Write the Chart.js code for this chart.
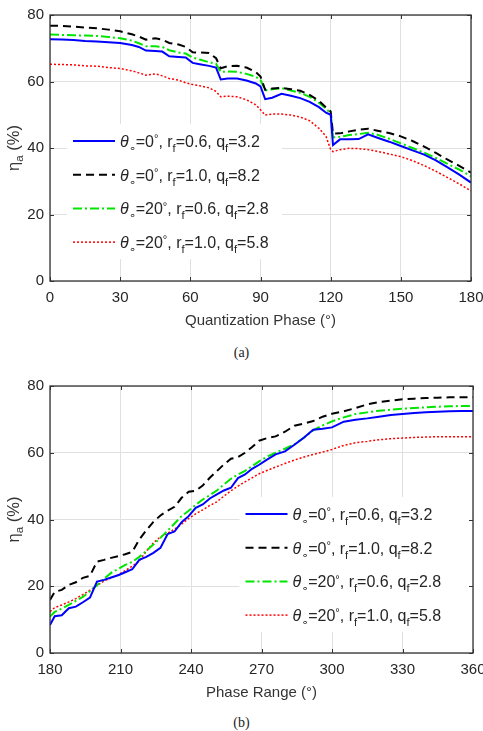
<!DOCTYPE html>
<html>
<head>
<meta charset="utf-8">
<script src="https://cdn.jsdelivr.net/npm/chart.js@4.4.0/dist/chart.umd.min.js"></script>
<style>
  body { margin: 0; background: #fff; width: 483px; height: 731px; position: relative; overflow: hidden; }
  canvas { position: absolute; left: 0; }
  #chartA { top: 0; }
  #chartB { top: 360px; }
  .cap { position: absolute; left: 0; width: 483px; text-align: center; font: 14px "Liberation Serif", serif; color: #222; line-height: 16px; }
</style>
</head>
<body>
<canvas id="chartA" width="483" height="340"></canvas>
<div class="cap" style="top:345px">(a)</div>
<canvas id="chartB" width="483" height="352"></canvas>
<div class="cap" style="top:715px">(b)</div>
<script>
'use strict';

// (a) aperture efficiency vs quantization phase
const quantPhase = [0, 5, 10, 15, 20, 25, 30, 35, 38, 41, 45, 48, 51, 55, 58, 61, 64, 68, 71, 73, 76, 80, 84,
    88, 90, 92, 95, 99, 103, 107, 111, 115, 118, 120, 121, 124, 128, 132, 136, 140, 145, 150, 155, 160, 165, 170, 175, 180];
const quantT0R06 = [72.7, 72.6, 72.5, 72.2, 72.0, 71.8, 71.6, 71.0, 70.4, 69.3, 69.2, 69.0, 67.6, 67.4, 67.2,
    65.6, 65.2, 64.7, 64.2, 60.6, 60.9, 60.9, 60.3, 59.4, 58.5, 54.7, 55.1, 56.3, 55.7, 55.0, 53.9,
    52.3, 50.6, 50.0, 40.9, 42.6, 42.6, 42.7, 44.1, 43.1, 41.9, 40.6, 39.3, 38.0, 36.3, 34.2, 32.0, 29.6];
const quantT0R10 = [76.8, 76.7, 76.5, 76.2, 76.0, 75.6, 75.1, 74.2, 73.5, 72.6, 73.0, 72.6, 71.6, 71.1, 70.4,
    68.8, 68.7, 68.6, 67.0, 64.0, 64.6, 64.7, 64.2, 62.8, 61.5, 57.5, 57.9, 58.1, 57.7, 57.2, 56.0,
    54.2, 52.2, 51.0, 44.3, 44.4, 45.0, 45.5, 45.8, 45.2, 44.5, 43.5, 42.1, 40.4, 38.5, 36.5, 34.6, 32.6];
const quantT20R06 = [74.1, 74.0, 73.9, 73.8, 73.7, 73.4, 73.0, 72.3, 71.5, 70.6, 70.6, 70.4, 69.4, 68.7, 68.4,
    67.2, 66.6, 65.8, 65.3, 62.9, 63.0, 62.9, 62.3, 61.4, 60.5, 57.3, 57.7, 58.0, 57.3, 56.6, 55.4,
    53.6, 51.8, 50.5, 43.2, 43.4, 43.9, 44.2, 44.6, 44.0, 42.8, 41.4, 40.0, 38.6, 37.0, 35.2, 33.5, 31.5];
const quantT20R10 = [65.2, 65.1, 65.0, 64.7, 64.6, 64.2, 63.9, 63.2, 62.6, 61.9, 62.3, 61.7, 60.9, 60.4, 59.6,
    59.1, 58.7, 58.1, 57.0, 55.4, 55.6, 55.4, 54.5, 53.0, 51.5, 49.9, 50.2, 50.2, 49.9, 49.3, 48.2,
    45.9, 43.5, 39.5, 38.9, 39.5, 39.9, 39.8, 39.5, 39.0, 38.2, 37.4, 36.2, 34.7, 33.0, 31.1, 29.2, 27.1];

// (b) aperture efficiency vs phase range
const phaseRange = [180, 182, 185, 188, 191, 194, 197, 200, 203, 206, 209, 212, 215, 218, 221, 224, 227, 230,
    233, 236, 239, 242, 245, 248, 251, 254, 257, 260, 263, 266, 269, 272, 276, 280, 284, 288, 292, 296, 300,
    305, 310, 315, 320, 325, 330, 335, 340, 345, 350, 355, 360];
const rangeT0R06 = [8.4, 11.0, 11.3, 13.4, 13.9, 15.2, 16.6, 21.4, 21.9, 22.6, 23.3, 24.2, 25.1, 27.9, 28.8,
    30.0, 31.5, 35.6, 36.4, 39.2, 41.0, 43.5, 44.5, 46.3, 47.5, 48.7, 49.5, 52.4, 53.5, 55.2, 56.4,
    57.8, 59.5, 60.4, 62.4, 64.5, 66.9, 67.2, 67.6, 69.3, 69.9, 70.3, 70.8, 71.3, 71.6, 71.9, 72.1, 72.3, 72.4, 72.5, 72.5];
const rangeT0R10 = [15.9, 18.3, 18.9, 20.4, 21.2, 22.5, 23.1, 27.4, 27.9, 28.5, 29.0, 29.6, 30.3, 34.0, 36.8,
    39.3, 41.2, 42.6, 43.8, 46.5, 48.3, 48.6, 50.2, 52.5, 54.5, 56.5, 58.2, 58.7, 60.0, 61.7, 63.6,
    64.3, 64.9, 66.3, 68.1, 68.7, 69.5, 70.8, 71.7, 72.4, 73.4, 74.5, 75.2, 75.6, 76.0, 76.2, 76.4, 76.5, 76.6, 76.6, 76.6];
const rangeT20R06 = [10.9, 12.3, 13.3, 14.4, 15.6, 16.8, 18.5, 20.3, 22.2, 24.0, 25.2, 26.4, 27.3, 28.8, 30.6,
    32.5, 34.5, 36.6, 38.8, 41.0, 42.6, 44.4, 46.0, 47.3, 48.7, 50.5, 52.2, 53.5, 54.6, 56.0, 57.4,
    58.7, 60.0, 61.2, 62.5, 64.5, 66.7, 68.2, 69.4, 70.6, 71.6, 72.1, 72.6, 72.9, 73.2, 73.4, 73.6, 73.8, 73.9, 74.0, 74.0];
const rangeT20R10 = [12.4, 13.6, 14.4, 15.3, 16.3, 17.5, 18.8, 20.2, 21.6, 22.5, 23.4, 24.7, 26.0, 27.6, 30.5,
    33.0, 34.8, 35.9, 37.1, 38.6, 40.3, 41.7, 42.9, 44.2, 45.3, 47.0, 48.6, 50.0, 51.3, 52.5, 53.7,
    54.6, 55.7, 56.8, 57.8, 58.7, 59.5, 60.2, 61.0, 62.2, 63.0, 63.4, 63.9, 64.2, 64.4, 64.6, 64.7, 64.8, 64.8, 64.8, 64.8];

// legend parameters
const thetaDeg = ['0', '0', '20', '20'];
const rfVals = ['0.6', '1.0', '0.6', '1.0'];
const qfVals = ['3.2', '8.2', '2.8', '5.8'];

const lineStyles = [
    {borderColor: '#0000ff', borderWidth: 2, borderDash: []},
    {borderColor: '#000000', borderWidth: 2, borderDash: [8, 5]},
    {borderColor: '#00e600', borderWidth: 2, borderDash: [9, 3, 2, 3]},
    {borderColor: '#ff0000', borderWidth: 1.5, borderDash: [2, 2]},
];

const FONT = '"Liberation Sans", "DejaVu Sans", sans-serif';

function legendParts(i) {
    return [
        {t: 'θ', it: true}, {t: '∘', sub: true}, {t: '=' + thetaDeg[i]}, {t: '°', sup: true},
        {t: ', r'}, {t: 'f', sub: true}, {t: '=' + rfVals[i] + ', q'}, {t: 'f', sub: true}, {t: '=' + qfVals[i]},
    ];
}

function partFont(p, size) {
    let fs = (p.sub || p.sup) ? size * 0.7 : size;
    return (p.it ? 'italic ' : '') + fs + 'px ' + FONT;
}

function measureRich(ctx, parts, size) {
    let w = 0;
    for (let p of parts) {
        ctx.font = partFont(p, size);
        w += ctx.measureText(p.t).width;
    }
    return w;
}

function drawRich(ctx, x, y, parts, size) {
    ctx.textBaseline = 'alphabetic';
    ctx.textAlign = 'left';
    for (let p of parts) {
        let dy = 0;
        if (p.sub) dy = size * 0.3;
        if (p.sup) dy = -size * 0.3;
        ctx.font = partFont(p, size);
        ctx.fillText(p.t, x, y + dy);
        x += ctx.measureText(p.t).width;
    }
    return x;
}

const decorations = {
    id: 'decorations',
    afterDatasetsDraw(chart, args, opts) {
        const {ctx, chartArea: a, scales} = chart;
        ctx.save();

        // legend box inside the axes
        ctx.fillStyle = '#fff';
        ctx.fillRect(opts.x - 6, opts.y - 17, opts.boxW, opts.rowH * 3 + 34);
        chart.data.datasets.forEach((ds, i) => {
            let y = opts.y + i * opts.rowH;
            ctx.strokeStyle = ds.borderColor;
            ctx.lineWidth = ds.borderWidth;
            ctx.setLineDash(ds.borderDash);
            ctx.beginPath();
            ctx.moveTo(opts.x, y);
            ctx.lineTo(opts.x + opts.sample, y);
            ctx.stroke();
            ctx.setLineDash([]);
            ctx.fillStyle = '#262626';
            drawRich(ctx, opts.x + opts.sample + 5, y + 6, legendParts(i), 16);
        });

        // inward ticks and axes box
        ctx.strokeStyle = '#333';
        ctx.lineWidth = 1;
        ctx.beginPath();
        for (let t of scales.x.ticks) {
            let px = Math.round(scales.x.getPixelForValue(t.value)) + 0.5;
            ctx.moveTo(px, a.bottom); ctx.lineTo(px, a.bottom - 4);
            ctx.moveTo(px, a.top); ctx.lineTo(px, a.top + 4);
        }
        for (let t of scales.y.ticks) {
            let py = Math.round(scales.y.getPixelForValue(t.value)) + 0.5;
            ctx.moveTo(a.left, py); ctx.lineTo(a.left + 4, py);
            ctx.moveTo(a.right, py); ctx.lineTo(a.right - 4, py);
        }
        ctx.stroke();
        ctx.lineWidth = 1.3;
        ctx.strokeRect(a.left, a.top, a.right - a.left, a.bottom - a.top);

        // y axis title with subscript
        const yParts = [{t: 'η'}, {t: 'a', sub: true}, {t: ' (%)'}];
        ctx.fillStyle = '#333';
        ctx.translate(18.5, (a.top + a.bottom) / 2);
        ctx.rotate(-Math.PI / 2);
        drawRich(ctx, -measureRich(ctx, yParts, 16.5) / 2, 0, yParts, 16.5);
        ctx.restore();
    }
};

function makeChart(id, xs, series, xMin, xMax, xTitle, padTop, padRight, legend) {
    const labels = [0, 1, 2, 3].map(i =>
        'θ∘=' + thetaDeg[i] + '°, rf=' + rfVals[i] + ', qf=' + qfVals[i]);
    const datasets = series.map((ys, i) => Object.assign({
        label: labels[i],
        data: xs.map((x, k) => ({x: x, y: ys[k]})),
        pointRadius: 0,
        tension: 0,
        fill: false,
    }, lineStyles[i]));

    return new Chart(document.getElementById(id), {
        type: 'line',
        data: {datasets: datasets},
        plugins: [decorations],
        options: {
            responsive: false,
            animation: false,
            layout: {padding: {left: 0, top: padTop, right: padRight, bottom: 0}},
            plugins: {
                legend: {display: false},
                tooltip: {enabled: false},
                decorations: legend,
            },
            scales: {
                x: {
                    type: 'linear', min: xMin, max: xMax,
                    ticks: {stepSize: 30, color: '#262626', font: {family: FONT, size: 15}, padding: 8,
                        maxRotation: 0, autoSkip: false},
                    grid: {color: '#e0e0e0', drawTicks: false},
                    border: {display: false},
                    title: {display: true, text: xTitle, color: '#333', font: {family: FONT, size: 15},
                        padding: {top: 0, bottom: 10}},
                    afterFit(s) { s.height = 59; s.paddingLeft = 0; s.paddingRight = 0; },
                },
                y: {
                    min: 0, max: 80,
                    ticks: {stepSize: 20, color: '#262626', font: {family: FONT, size: 15}, padding: 6},
                    grid: {color: '#e0e0e0', drawTicks: false},
                    border: {display: false},
                    afterFit(s) { s.width = 50; s.paddingTop = 0; s.paddingBottom = 0; },
                },
            },
        },
    });
}

makeChart('chartA', quantPhase, [quantT0R06, quantT0R10, quantT20R06, quantT20R10],
    0, 180, 'Quantization Phase (°)', 15, 12,
    {x: 73, y: 141, rowH: 33.7, sample: 42, boxW: 215});

makeChart('chartB', phaseRange, [rangeT0R06, rangeT0R10, rangeT20R06, rangeT20R10],
    180, 360, 'Phase Range (°)', 26, 10,
    {x: 245.5, y: 154, rowH: 33.7, sample: 42, boxW: 233});
</script>
</body>
</html>
